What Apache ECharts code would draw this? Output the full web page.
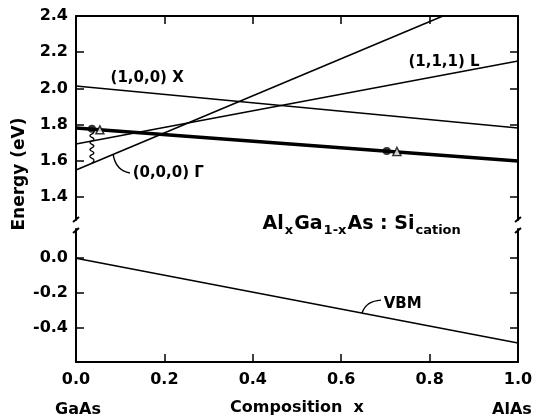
<!DOCTYPE html>
<html>
<head>
<meta charset="utf-8">
<script src="https://cdn.jsdelivr.net/npm/echarts@6.0.0/dist/echarts.min.js"></script>
<style>
  html, body { margin: 0; padding: 0; background: #fff; }
  #chart { width: 539px; height: 417px; }
</style>
</head>
<body>
<div id="chart"></div>
<script>
// band edges vs Al fraction x
var bandX = [[0, 2.013], [1, 1.781]];
var bandL = [[0, 1.693], [1, 2.151]];
var bandGamma = [[0, 1.549], [1, 2.574]];
var siLevel = [[0, 1.781], [1, 1.599]];
var vbmLine = [[0, 0.0], [1, -0.49]];
var dotPoints = [[0.036, 1.777], [0.703, 1.654]];
var trianglePoints = [[0.054, 1.771], [0.726, 1.652]];

// axis ticks
var upperTicks = [1.4, 1.6, 1.8, 2.0, 2.2, 2.4];
var upperRightTicks = [1.4, 1.6, 1.8, 2.0, 2.2];
var lowerTicks = [-0.4, -0.2, 0.0];
var xTicks = [0.2, 0.4, 0.6, 0.8];

// text annotations [x, y, text]
var upperNotes = [
  [0.077, 2.057, '(1,0,0) X'],
  [0.751, 2.146, '(1,1,1) L'],
  [0.127, 1.533, '(0,0,0) Γ']
];
var lowerNotes = [
  [0.421, 0.197, '{a|Al}{s|x}{a|Ga}{s|1-x}{a|As : Si}{s|cation}'],
  [0.695, -0.264, 'VBM']
];
// leader curves: start on line, control, end at label
var gammaLeader = [[0.084, 1.635], [0.090, 1.545], [0.122, 1.533]];
var vbmLeader = [[0.647, -0.317], [0.656, -0.247], [0.690, -0.242]];
// wavy transition from the Si level down to Gamma
var waveEnds = [[0.036, 1.777], [0.036, 1.586]];

var upperMin = 1.273, upperMax = 2.4;
var lowerMin = -0.6, lowerMax = 0.169;

var FONT = 'DejaVu Sans';
var chart = echarts.init(document.getElementById('chart'));

function frameLine() {
  return { show: true, onZero: false, lineStyle: { color: '#000', width: 2 } };
}
function ticks(vals) {
  return { show: true, inside: true, length: 8, customValues: vals, lineStyle: { color: '#000', width: 1.5 } };
}
function noteSeries(xi, yi, notes) {
  return {
    type: 'scatter', xAxisIndex: xi, yAxisIndex: yi, silent: true, clip: false,
    symbolSize: 1, itemStyle: { color: 'rgba(0,0,0,0)' },
    data: notes.map(function (n) { return { value: [n[0], n[1]], label: { formatter: n[2] } }; }),
    label: {
      show: true, position: 'right', distance: 0, opacity: 1,
      fontFamily: FONT, fontSize: 15, fontWeight: 'bold', color: '#000',
      rich: {
        a: { fontFamily: FONT, fontSize: 19, fontWeight: 'bold', color: '#000' },
        s: { fontFamily: FONT, fontSize: 13, fontWeight: 'bold', color: '#000', padding: [12, 1, 0, 1] }
      }
    }
  };
}
function line(data, w) {
  return {
    type: 'line', xAxisIndex: 0, yAxisIndex: 0, data: data, symbol: 'none',
    silent: true, clip: true, lineStyle: { color: '#000', width: w }
  };
}

var option = {
  animation: false,
  grid: [
    { left: 76, right: 21, top: 16, height: 204 },
    { left: 76, right: 21, top: 229, height: 137 }
  ],
  xAxis: [
    {
      type: 'value', gridIndex: 0, position: 'top', min: 0, max: 1,
      axisLine: frameLine(), axisTick: ticks(xTicks), axisLabel: { show: false }, splitLine: { show: false }
    },
    {
      type: 'value', gridIndex: 1, position: 'bottom', min: 0, max: 1, interval: 0.2,
      axisLine: frameLine(), axisTick: ticks(xTicks),
      axisLabel: {
        margin: 10, fontFamily: FONT, fontSize: 16, fontWeight: 'bold', color: '#000',
        formatter: function (v) { return v.toFixed(1); }
      },
      splitLine: { show: false },
      name: 'Composition  x', nameLocation: 'middle', nameGap: 38,
      nameTextStyle: { fontFamily: FONT, fontSize: 16, fontWeight: 'bold', color: '#000' }
    }
  ],
  yAxis: [
    {
      type: 'value', gridIndex: 0, position: 'left', min: upperMin, max: upperMax,
      axisLine: frameLine(), axisTick: ticks(upperTicks), splitLine: { show: false },
      axisLabel: {
        customValues: upperTicks, margin: 8, fontFamily: FONT, fontSize: 16, fontWeight: 'bold', color: '#000',
        formatter: function (v) { return v.toFixed(1); }
      }
    },
    {
      type: 'value', gridIndex: 0, position: 'right', min: upperMin, max: upperMax,
      axisLine: frameLine(), axisTick: ticks(upperRightTicks), axisLabel: { show: false }, splitLine: { show: false }
    },
    {
      type: 'value', gridIndex: 1, position: 'left', min: lowerMin, max: lowerMax,
      axisLine: frameLine(), axisTick: ticks(lowerTicks), splitLine: { show: false },
      axisLabel: {
        customValues: lowerTicks, margin: 8, fontFamily: FONT, fontSize: 16, fontWeight: 'bold', color: '#000',
        formatter: function (v) { return v.toFixed(1); }
      }
    },
    {
      type: 'value', gridIndex: 1, position: 'right', min: lowerMin, max: lowerMax,
      axisLine: frameLine(), axisTick: ticks(lowerTicks), axisLabel: { show: false }, splitLine: { show: false }
    }
  ],
  series: [
    line(bandX, 1.6),
    line(bandL, 1.6),
    line(bandGamma, 1.6),
    line(siLevel, 3.5),
    {
      type: 'line', xAxisIndex: 1, yAxisIndex: 2, data: vbmLine, symbol: 'none',
      silent: true, lineStyle: { color: '#000', width: 1.6 }
    },
    {
      type: 'scatter', xAxisIndex: 0, yAxisIndex: 0, data: dotPoints, symbol: 'circle',
      symbolSize: 8, itemStyle: { color: '#000' }, silent: true, z: 5
    },
    {
      type: 'scatter', xAxisIndex: 0, yAxisIndex: 0, data: trianglePoints, symbol: 'triangle',
      symbolSize: 8, itemStyle: { color: '#fff', borderColor: '#000', borderWidth: 1.5 }, silent: true, z: 5
    },
    noteSeries(0, 0, upperNotes),
    noteSeries(1, 2, lowerNotes)
  ]
};
chart.setOption(option);

// decorations placed from data coordinates
var up = { xAxisIndex: 0, yAxisIndex: 0 };
var low = { xAxisIndex: 1, yAxisIndex: 2 };
function px(finder, p) { return chart.convertToPixel(finder, p); }

function leader(finder, pts) {
  var a = px(finder, pts[0]), c = px(finder, pts[1]), b = px(finder, pts[2]);
  return {
    type: 'bezierCurve', silent: true,
    shape: { x1: a[0], y1: a[1], cpx1: c[0], cpy1: c[1], x2: b[0], y2: b[1] },
    style: { stroke: '#000', lineWidth: 1.4, fill: null }
  };
}

function wave(finder, ends) {
  var a = px(finder, ends[0]), b = px(finder, ends[1]);
  var pts = [], n = 10;
  for (var i = 0; i <= n; i++) {
    var off = (i === 0 || i === n) ? 0 : (i % 2 ? 2 : -2);
    pts.push([a[0] + off, a[1] + (b[1] - a[1]) * i / n]);
  }
  return { type: 'polyline', silent: true, shape: { points: pts, smooth: 0.5 }, style: { stroke: '#000', lineWidth: 1.3, fill: null } };
}

function breakMark(x, y) {
  return {
    type: 'line', silent: true,
    shape: { x1: x - 3, y1: y + 2, x2: x + 3, y2: y - 3 },
    style: { stroke: '#000', lineWidth: 2 }
  };
}

var ul = px(up, [0, upperMin]), ur = px(up, [1, upperMin]);
var ll = px(low, [0, lowerMax]), lr = px(low, [1, lowerMax]);

chart.setOption({
  graphic: [
    leader(up, gammaLeader),
    leader(low, vbmLeader),
    wave(up, waveEnds),
    breakMark(ul[0], ul[1]), breakMark(ur[0], ur[1]),
    breakMark(ll[0], ll[1] + 2), breakMark(lr[0], lr[1] + 2),
    {
      type: 'text', silent: true, x: 20, y: 174, rotation: Math.PI / 2,
      style: { text: 'Energy (eV)', font: 'bold 17px "DejaVu Sans"', fill: '#000', align: 'center', verticalAlign: 'middle' }
    },
    {
      type: 'text', silent: true, x: 78, y: 410,
      style: { text: 'GaAs', font: 'bold 16px "DejaVu Sans"', fill: '#000', align: 'center', verticalAlign: 'middle' }
    },
    {
      type: 'text', silent: true, x: 512, y: 410,
      style: { text: 'AlAs', font: 'bold 16px "DejaVu Sans"', fill: '#000', align: 'center', verticalAlign: 'middle' }
    }
  ]
});
</script>
</body>
</html>
